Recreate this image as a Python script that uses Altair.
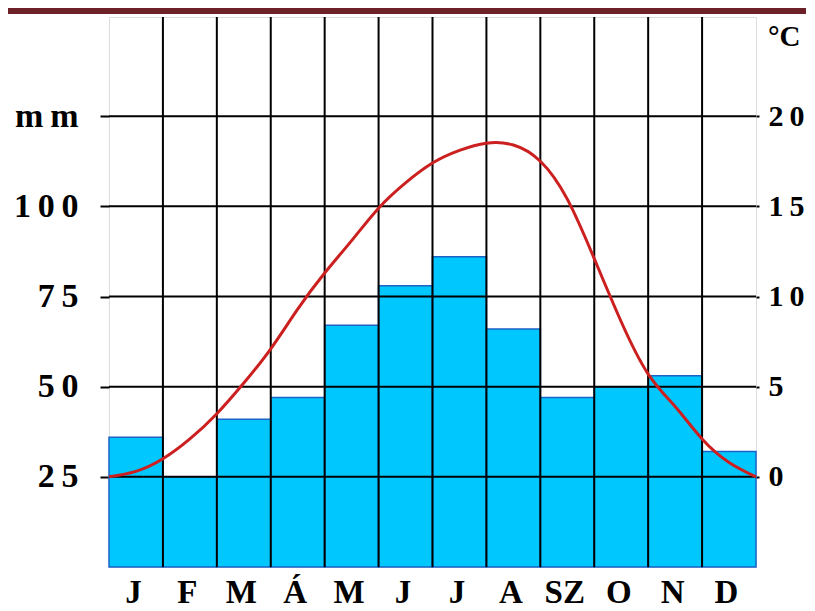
import altair as alt
import pandas as pd

# ---- data ----
months = ["J", "F", "M", "Á", "M", "J", "J", "A", "SZ", "O", "N", "D"]
precip_mm = [36, 25, 41, 47, 67, 78, 86, 66, 47, 50, 53, 32]

# temperature curve read at every half month (°C)
temp_pos = [0, 0.5, 1, 1.5, 2, 2.5, 3, 3.5, 4, 4.5, 5, 5.5, 6, 6.5,
            7, 7.5, 8, 8.5, 9, 9.5, 10, 10.5, 11, 11.5, 12]
temp_c = [0, 0.3, 1.0, 2.1, 3.5, 5.2, 7.1, 9.3, 11.3, 13.1, 14.9, 16.3,
          17.4, 18.1, 18.5, 18.4, 17.5, 15.4, 12.1, 8.6, 5.7, 3.9, 2.1, 0.8, 0]

mm_ticks = [25, 50, 75, 100, 125]
c_ticks = [0, 5, 10, 15, 20]
month_lines = list(range(1, 12))

W, H = 647, 550
FONT = "Liberation Serif"
TS = "\u2009"  # thin space between digits

bars_df = pd.DataFrame({
    "start": list(range(12)),
    "end": list(range(1, 13)),
    "mm": precip_mm,
    "base": [0] * 12,
    "month": months,
})
temp_df = pd.DataFrame({"pos": temp_pos, "temp": temp_c})
hgrid_df = pd.DataFrame({"mm": mm_ticks})
vgrid_df = pd.DataFrame({"pos": month_lines})

xscale = alt.Scale(domain=[0, 12], nice=False, zero=False)
mm_scale = alt.Scale(domain=[0, 152.5], nice=False)
c_scale = alt.Scale(domain=[-5, 25.5], nice=False)

month_expr = "[" + ",".join("'" + m + "'" for m in months) + "][floor(datum.value)]"

x_axis = alt.Axis(
    values=[i + 0.5 for i in range(12)], labelExpr=month_expr,
    ticks=False, domain=False, grid=False, title=None,
    labelFont=FONT, labelFontWeight="bold", labelFontSize=33,
    labelColor="black", labelPadding=9, labelOffset=-3)

mm_axis = alt.Axis(
    values=mm_ticks,
    labelExpr="datum.value == 125 ? 'm" + TS + "m' : join(split(datum.label, ''), '" + TS + "')",
    grid=False, domain=False, ticks=True, tickSize=9, tickWidth=2,
    tickColor="black", title=None, labelFont=FONT, labelFontWeight="bold",
    labelFontSize=34, labelColor="black", labelPadding=22)

bars = alt.Chart(bars_df).mark_rect(
    color="#00C8FF", stroke="#1B63C6", strokeWidth=1.5
).encode(
    x=alt.X("start:Q", scale=xscale, axis=x_axis),
    x2="end:Q",
    y=alt.Y("mm:Q", scale=mm_scale, axis=mm_axis),
    y2="base:Q",
)

hgrid = alt.Chart(hgrid_df).mark_rule(color="black", strokeWidth=2).encode(
    y=alt.Y("mm:Q", scale=mm_scale, axis=mm_axis)
)
vgrid = alt.Chart(vgrid_df).mark_rule(color="black", strokeWidth=2).encode(
    x=alt.X("pos:Q", scale=xscale, axis=x_axis)
)

left = alt.layer(bars, hgrid, vgrid)

line = alt.Chart(temp_df).mark_line(
    color="#CC1F1F", strokeWidth=3, interpolate="natural"
).encode(
    x=alt.X("pos:Q", scale=xscale, axis=x_axis),
    y=alt.Y("temp:Q", scale=c_scale, axis=alt.Axis(
        orient="right", values=c_ticks,
        labelExpr="join(split(datum.label, ''), '" + TS + "')",
        grid=False, domain=False, ticks=True, tickSize=3, tickWidth=2,
        tickColor="black", title=None, labelFont=FONT, labelFontWeight="bold",
        labelFontSize=30, labelColor="black", labelPadding=9)),
)

unit_c = alt.Chart(pd.DataFrame({"t": ["°C"]})).mark_text(
    font=FONT, fontWeight="bold", fontSize=29, align="left", baseline="middle",
    color="black"
).encode(text="t:N", x=alt.value(W + 12), y=alt.value(20))

band = alt.Chart(pd.DataFrame({"a": [0]})).mark_rect(color="#6B2127").encode(
    x=alt.value(-101), x2=alt.value(W + 50), y=alt.value(-9), y2=alt.value(-3)
)

chart = alt.layer(left, line, unit_c, band).resolve_scale(
    y="independent"
).properties(
    width=W, height=H,
    autosize=alt.AutoSizeParams(type="none"),
    padding={"left": 101, "top": 9, "right": 50, "bottom": 44},
).configure_view(stroke="black", strokeWidth=2).configure(background="white")

chart.save("out.html", embed_options={"renderer": "svg", "actions": False})
